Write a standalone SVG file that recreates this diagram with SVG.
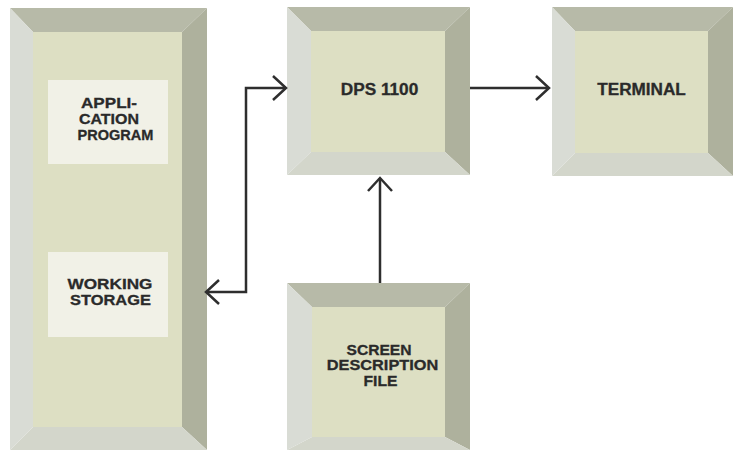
<svg xmlns="http://www.w3.org/2000/svg" width="737" height="451" viewBox="0 0 737 451">
<defs>
<style>
.top{fill:#b7baa8}
.right{fill:#aeb19d}
.left{fill:#d9dcd5}
.bottom{fill:#d3d6cb}
.face{fill:#dddfc3}
.panel{fill:#f1f1e7}
.lbl{font-family:"Liberation Sans",Arial,sans-serif;font-weight:bold;font-size:15px;fill:#2a2a2a;stroke:#2a2a2a;stroke-width:0.3;text-anchor:middle}
.big{font-size:16px}
.conn{fill:none;stroke:#2e2e2e;stroke-width:2.5}
</style>
<marker id="ah" markerUnits="userSpaceOnUse" markerWidth="30" markerHeight="30" refX="0" refY="0" viewBox="-15 -15 30 30" orient="auto-start-reverse">
<path d="M-13,-12 L0,0 L-13,12" fill="none" stroke="#2e2e2e" stroke-width="2.5"/>
</marker>
</defs>
<rect width="737" height="451" fill="#ffffff"/>

<g id="program-box">
<polygon class="top" points="10,8 207,8 182,32 33,32"/>
<polygon class="right" points="207,8 207,450 182,427 182,32"/>
<polygon class="bottom" points="10,450 207,450 182,427 33,427"/>
<polygon class="left" points="10,8 33,32 33,427 10,450"/>
<rect class="face" x="33" y="32" width="149" height="395"/>
<g id="application-program">
<rect class="panel" x="48" y="80" width="120" height="84"/>
<text class="lbl" x="109" y="108" textLength="56" lengthAdjust="spacingAndGlyphs">APPLI-</text>
<text class="lbl" x="109" y="123.5" textLength="60" lengthAdjust="spacingAndGlyphs">CATION</text>
<text class="lbl" x="115.5" y="139.5" textLength="76" lengthAdjust="spacingAndGlyphs">PROGRAM</text>
</g>
<g id="working-storage">
<rect class="panel" x="48" y="252" width="120" height="85"/>
<text class="lbl" x="110" y="288.5" textLength="85" lengthAdjust="spacingAndGlyphs">WORKING</text>
<text class="lbl" x="110.5" y="305" textLength="81" lengthAdjust="spacingAndGlyphs">STORAGE</text>
</g>
</g>

<g id="dps1100">
<polygon class="top" points="287,7 470,7 445,31 311,31"/>
<polygon class="right" points="470,7 470,175 445,152 445,31"/>
<polygon class="bottom" points="287,175 470,175 445,152 311,152"/>
<polygon class="left" points="287,7 311,31 311,152 287,175"/>
<rect class="face" x="311" y="31" width="134" height="121"/>
<text class="lbl big" x="379.5" y="95" textLength="77.5" lengthAdjust="spacingAndGlyphs">DPS 1100</text>
</g>

<g id="terminal">
<polygon class="top" points="552,7 733,7 708,31 575,31"/>
<polygon class="right" points="733,7 733,176 708,153 708,31"/>
<polygon class="bottom" points="552,176 733,176 708,153 575,153"/>
<polygon class="left" points="552,7 575,31 575,153 552,176"/>
<rect class="face" x="575" y="31" width="133" height="122"/>
<text class="lbl big" x="641.5" y="95" textLength="88.5" lengthAdjust="spacingAndGlyphs">TERMINAL</text>
</g>

<g id="screen-description-file">
<polygon class="top" points="287,283 470,283 445,307 312,307"/>
<polygon class="right" points="470,283 470,450 445,437 445,307"/>
<polygon class="bottom" points="287,450 470,450 445,437 312,437"/>
<polygon class="left" points="287,283 312,307 312,437 287,450"/>
<rect class="face" x="312" y="307" width="133" height="130"/>
<text class="lbl" x="379" y="354.5" textLength="65" lengthAdjust="spacingAndGlyphs">SCREEN</text>
<text class="lbl" x="382.5" y="370" textLength="111.5" lengthAdjust="spacingAndGlyphs">DESCRIPTION</text>
<text class="lbl" x="380.5" y="385.5" textLength="34" lengthAdjust="spacingAndGlyphs">FILE</text>
</g>

<g id="connectors">
<polyline class="conn" points="286,88 246,88 246,292 206,292" marker-start="url(#ah)" marker-end="url(#ah)"/>
<line class="conn" x1="470" y1="88" x2="549" y2="88" marker-end="url(#ah)"/>
<line class="conn" x1="380" y1="283" x2="380" y2="178" marker-end="url(#ah)"/>
</g>
</svg>
